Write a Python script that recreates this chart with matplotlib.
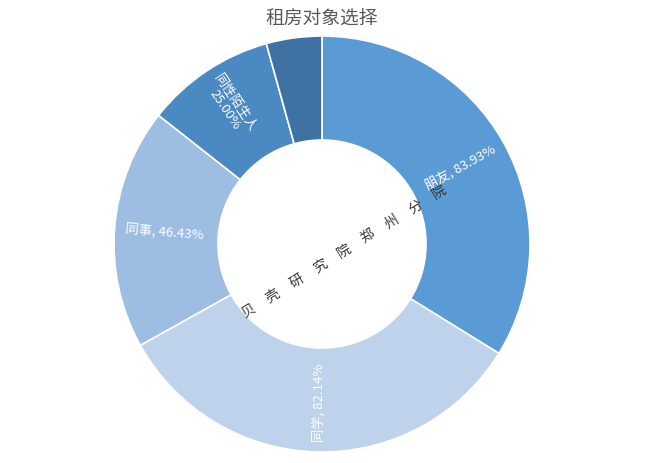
import numpy as np
import matplotlib
matplotlib.use('Agg')
import matplotlib.pyplot as plt

plt.rcParams['font.family'] = ['Noto Sans CJK SC', 'DejaVu Sans']

# 数据
labels = ['朋友', '同学', '同事', '同性陌生人', '其他']
values = [83.93, 82.14, 46.43, 25.00, 10.71]
colors = ['#5B9BD5', '#BFD2EC', '#9EBDE3', '#4B89C2', '#3F72A2']
show_label = [True, True, True, True, False]
center_text = '贝壳研究院郑州分院'

W, H = 646, 464
fig = plt.figure(figsize=(W / 100, H / 100), dpi=100)
cx, cy, R = 322, 245, 208  # 像素
ax = fig.add_axes([(cx - R) / W, (H - cy - R) / H, 2 * R / W, 2 * R / H])

wedges, _ = ax.pie(values, colors=colors, startangle=90, counterclock=False,
                   radius=1, wedgeprops=dict(width=0.5, edgecolor='white', linewidth=1.2))
ax.set_xlim(-1, 1)
ax.set_ylim(-1, 1)
ax.set_aspect('equal')
ax.axis('off')

# 扇区标签，沿径向旋转
for w, lab, v, show in zip(wedges, labels, values, show_label):
    if not show:
        continue
    mid = (w.theta1 + w.theta2) / 2
    mid = (mid + 180) % 360 - 180
    rad = np.deg2rad(mid)
    rot = mid if -90 <= mid <= 90 else mid - 180
    if lab == '同学':
        rot = 90
    if lab == '同性陌生人':
        txt = '%s\n%.2f%%' % (lab, v)
        r = 0.8
    else:
        txt = '%s, %.2f%%' % (lab, v)
        r = 0.76
    ax.text(r * np.cos(rad), r * np.sin(rad), txt, color='white', fontsize=9.5,
            rotation=rot, rotation_mode='anchor', ha='center', va='center',
            linespacing=0.95)

# 中间文字
ang = np.deg2rad(32)
step = 28 / R
mx, my = 0.105, -0.03
n = len(center_text)
for i, ch in enumerate(center_text):
    d = (i - (n - 1) / 2) * step
    ax.text(mx + d * np.cos(ang), my + d * np.sin(ang), ch, fontsize=10, color='#333333',
            rotation=32, ha='center', va='center', rotation_mode='anchor')

fig.text(cx / W, 1 - 18 / H, '租房对象选择', fontsize=13.5, color='#595959',
         ha='center', va='center')

fig.savefig('out.png', dpi=100, facecolor='white')
